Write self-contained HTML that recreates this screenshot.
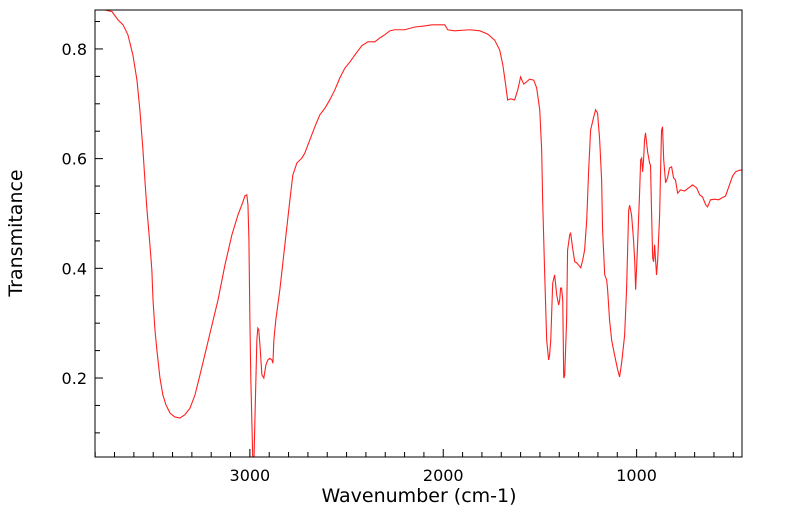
<!DOCTYPE html>
<html><head><meta charset="utf-8"><style>
html,body{margin:0;padding:0;background:#fff;}
svg{display:block;font-family:"DejaVu Sans","Liberation Sans",sans-serif;}
</style></head><body>
<svg id="chart" width="799" height="516"></svg>
<script>
const wavenumbers=[3801,3749,3713,3682,3656,3631,3605,3584,3569,3553,3543,3532,3517,3507,3501,3491,3481,3465,3450,3434,3413,3388,3362,3336,3310,3284,3258,3227,3196,3165,3129,3093,3062,3036,3026,3016,3010,3005,3000,2995,2990,2985,2979,2974,2969,2964,2959,2954,2948,2938,2928,2917,2907,2897,2886,2881,2876,2866,2845,2819,2793,2778,2757,2731,2716,2690,2664,2638,2612,2587,2561,2535,2509,2483,2457,2421,2390,2354,2328,2302,2276,2251,2199,2147,2096,2059,1992,1977,1941,1863,1811,1770,1734,1708,1692,1677,1667,1651,1631,1615,1600,1584,1569,1553,1532,1517,1501,1491,1486,1476,1465,1455,1450,1444,1434,1424,1413,1403,1398,1393,1388,1382,1377,1372,1362,1357,1346,1341,1331,1320,1310,1300,1289,1279,1269,1258,1248,1238,1222,1212,1202,1191,1181,1176,1165,1155,1150,1140,1129,1114,1098,1088,1077,1062,1052,1041,1036,1026,1016,1010,1005,995,985,979,974,969,964,959,954,943,933,928,923,917,912,907,902,897,891,881,876,871,866,860,850,840,830,819,809,799,788,773,752,726,711,690,674,659,643,633,618,597,576,561,540,519,504,488,468,457];
const transmittance=[0.871,0.871,0.868,0.853,0.844,0.826,0.789,0.743,0.689,0.616,0.561,0.506,0.443,0.397,0.342,0.288,0.251,0.200,0.169,0.151,0.136,0.129,0.127,0.133,0.145,0.169,0.206,0.251,0.297,0.342,0.406,0.461,0.497,0.521,0.532,0.534,0.516,0.452,0.306,0.196,0.123,0.050,0.050,0.123,0.196,0.269,0.291,0.288,0.260,0.206,0.200,0.224,0.233,0.236,0.233,0.227,0.269,0.306,0.361,0.443,0.525,0.570,0.592,0.601,0.610,0.634,0.658,0.680,0.692,0.707,0.725,0.747,0.765,0.776,0.789,0.806,0.813,0.813,0.820,0.826,0.833,0.835,0.835,0.840,0.842,0.844,0.844,0.835,0.833,0.835,0.833,0.827,0.816,0.798,0.771,0.734,0.707,0.709,0.707,0.725,0.749,0.736,0.740,0.745,0.743,0.729,0.689,0.616,0.525,0.397,0.269,0.233,0.242,0.269,0.373,0.388,0.351,0.333,0.342,0.364,0.364,0.342,0.200,0.204,0.306,0.433,0.461,0.464,0.437,0.412,0.410,0.406,0.401,0.415,0.433,0.488,0.579,0.652,0.676,0.689,0.683,0.634,0.561,0.470,0.388,0.379,0.361,0.306,0.269,0.242,0.215,0.202,0.229,0.278,0.361,0.506,0.515,0.497,0.452,0.415,0.361,0.443,0.534,0.598,0.601,0.576,0.598,0.634,0.647,0.612,0.592,0.588,0.506,0.419,0.412,0.443,0.415,0.388,0.415,0.497,0.579,0.652,0.658,0.598,0.556,0.565,0.583,0.585,0.565,0.561,0.537,0.543,0.541,0.548,0.552,0.547,0.534,0.530,0.516,0.512,0.525,0.526,0.525,0.528,0.532,0.553,0.568,0.576,0.579,0.579];
const xTickLabels=[3000,2000,1000];
const yTickLabels=[0.2,0.4,0.6,0.8];

const NS="http://www.w3.org/2000/svg";
const svg=document.getElementById('chart');
const L=95,R=742,T=10,B=457;
const X0=3801,X1=455,Y0=0.056,Y1=0.871;
const xs=v=>L+(X0-v)/(X0-X1)*(R-L);
const ys=v=>B-(v-Y0)/(Y1-Y0)*(B-T);
function mk(tag,attrs,parent){const e=document.createElementNS(NS,tag);for(const k in attrs)e.setAttribute(k,attrs[k]);(parent||svg).appendChild(e);return e;}

const defs=mk('defs',{});
const cp=mk('clipPath',{id:'clip'},defs);
mk('rect',{x:L,y:T,width:R-L,height:B-T},cp);

let d='';
for(let i=0;i<wavenumbers.length;i++){d+=(i?'L':'M')+xs(wavenumbers[i]).toFixed(2)+','+ys(transmittance[i]).toFixed(2);}
const line=mk('path',{d:d,fill:'none',stroke:'#ff2020','stroke-width':1.1,'clip-path':'url(#clip)'});



const frame=mk('rect',{x:L,y:T,width:R-L,height:B-T,fill:'none',stroke:'#000','stroke-width':1});



const xg=mk('g',{});


for(let v=3800;v>=500;v-=100){const x=xs(v);const major=v%1000===0;mk('line',{x1:x,x2:x,y1:B,y2:B-(major?8:5),stroke:'#000','stroke-width':1},xg);}
xTickLabels.forEach(v=>{const t=mk('text',{x:xs(v),y:B+24,'text-anchor':'middle','font-size':16,fill:'#000'},xg);t.textContent=v;

});
const yg=mk('g',{});


for(let k=2;k<=17;k++){const v=k*0.05;const y=ys(v);if(y<T||y>B)continue;const major=k%4===0;mk('line',{x1:L,x2:L+(major?8:5),y1:y,y2:y,stroke:'#000','stroke-width':1},yg);}
yTickLabels.forEach(v=>{const t=mk('text',{x:L-8,y:ys(v)+6,'text-anchor':'end','font-size':16,fill:'#000'},yg);t.textContent=v.toFixed(1);

});

const xt=mk('text',{x:419,y:502,'text-anchor':'middle','font-size':19,fill:'#000'});
xt.textContent='Wavenumber (cm-1)';


const yt=mk('text',{x:0,y:0,'text-anchor':'middle','font-size':19,fill:'#000',transform:'translate(22,233) rotate(-90)'});
yt.textContent='Transmitance';


</script>
</body></html>
